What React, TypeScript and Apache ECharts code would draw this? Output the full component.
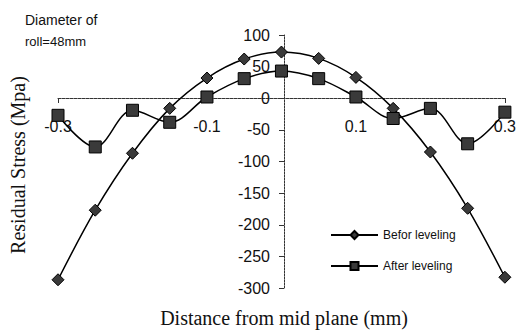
import React, { useEffect, useRef } from "react";
import * as echarts from "echarts";

const distances = [-0.3, -0.25, -0.2, -0.15, -0.1, -0.05, 0, 0.05, 0.1, 0.15, 0.2, 0.25, 0.3];
const beforeLeveling = [-287, -177, -87, -16, 32, 62, 73, 63, 33, -16, -85, -174, -283];
const afterLeveling = [-27, -77, -19, -38, 2, 31, 43, 31, 2, -32, -16, -72, -22];
const seriesNames = ["Befor leveling", "After leveling"];
const noteLines = ["Diameter of", "roll=48mm"];
const xTitle = "Distance from mid plane (mm)";
const yTitle = "Residual Stress (Mpa)";

export default function App() {
  const ref = useRef<HTMLDivElement>(null);
  useEffect(() => {
    if (!ref.current) return;
    const chart = echarts.init(ref.current, null, { renderer: "svg" });
    const sans = "'Liberation Sans', Arial, sans-serif";
    const serif = "'Liberation Serif', 'Times New Roman', serif";
    const markerStyle = { color: "#3a3a3a", borderColor: "#000", borderWidth: 1 };
    chart.setOption({
      animation: false,
      backgroundColor: "#fff",
      grid: { left: 58, right: 9, top: 35, bottom: 42, containLabel: false },
      xAxis: {
        type: "value",
        min: -0.3,
        max: 0.3,
        interval: 0.2,
        position: "bottom",
        offset: -190,
        axisLine: { onZero: false, lineStyle: { color: "#333", width: 1, type: [3, 1] } },
        axisTick: { show: true, length: 5, lineStyle: { color: "#333" } },
        splitLine: { show: false },
        axisLabel: {
          margin: 20,
          fontFamily: sans,
          fontSize: 16,
          color: "#111",
          formatter: (v: number) => String(Math.round(v * 10) / 10),
        },
      },
      yAxis: {
        type: "value",
        min: -300,
        max: 100,
        interval: 50,
        position: "left",
        offset: -226,
        axisLine: { show: true, onZero: false, lineStyle: { color: "#333", width: 1, type: [2, 1] } },
        axisTick: { show: true, length: 5, lineStyle: { color: "#333" } },
        splitLine: { show: false },
        axisLabel: { margin: 14, fontFamily: sans, fontSize: 16, color: "#111" },
      },
      legend: {
        orient: "vertical",
        left: 325,
        top: 224,
        itemWidth: 47,
        itemHeight: 10,
        itemGap: 19,
        textStyle: { fontFamily: sans, fontSize: 12, color: "#111" },
        data: seriesNames,
      },
      series: [
        {
          name: seriesNames[0],
          type: "line",
          data: distances.map((d, i) => [d, beforeLeveling[i]]),
          smooth: 0.35,
          symbol: "diamond",
          symbolSize: 12,
          lineStyle: { color: "#000", width: 1.5 },
          itemStyle: markerStyle,
        },
        {
          name: seriesNames[1],
          type: "line",
          data: distances.map((d, i) => [d, afterLeveling[i]]),
          smooth: 0.35,
          symbol: "rect",
          symbolSize: 12,
          lineStyle: { color: "#000", width: 1.5 },
          itemStyle: markerStyle,
        },
      ],
      graphic: [
        {
          type: "text",
          left: 25,
          top: 13,
          style: { text: noteLines[0], font: `14px ${sans}`, fill: "#111" },
        },
        {
          type: "text",
          left: 25,
          top: 35,
          style: { text: noteLines[1], font: `13px ${sans}`, fill: "#111" },
        },
        {
          type: "text",
          x: 284,
          y: 318,
          style: { text: xTitle, font: `20px ${serif}`, fill: "#111", align: "center", verticalAlign: "middle" },
        },
        {
          type: "text",
          x: 18,
          y: 165,
          rotation: Math.PI / 2,
          style: { text: yTitle, font: `20px ${serif}`, fill: "#111", align: "center", verticalAlign: "middle" },
        },
      ],
    });
    return () => chart.dispose();
  }, []);
  return <div ref={ref} style={{ position: "fixed", left: 0, top: 0, width: 519, height: 330 }} />;
}
